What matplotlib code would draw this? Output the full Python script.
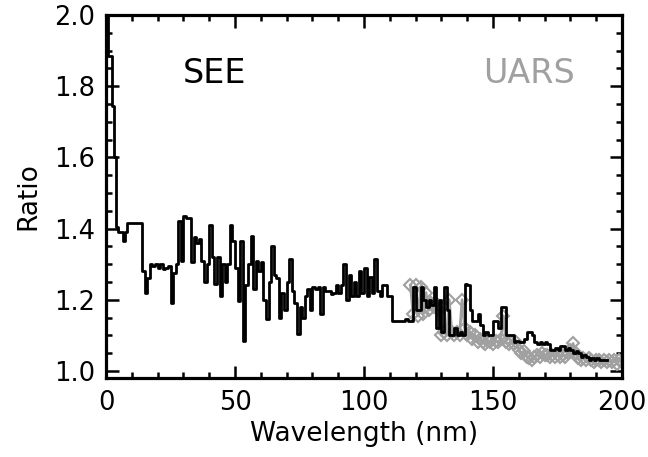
import numpy as np
import matplotlib
matplotlib.use("Agg")
from matplotlib import pyplot as plt
from matplotlib.ticker import MultipleLocator, FormatStrFormatter

# SEE ratio: left bin edges (nm) and values, short-wavelength part has uneven bins
see_wl_short = [0, 0.6, 2.2, 3.1, 3.9, 4.8, 6.7, 7.5, 8.3]
see_ratio_short = [2.05, 1.885, 1.745, 1.60, 1.405, 1.39, 1.365, 1.39, 1.417]

# 1 nm bins from 14 nm to 193 nm
see_wl_long = list(range(14, 194))
see_ratio_long = [
    1.28, 1.22, 1.26, 1.30, 1.295, 1.30, 1.29, 1.30, 1.285, 1.29,      # 14-23
    1.295, 1.19, 1.275, 1.30, 1.42, 1.31, 1.435, 1.43, 1.43, 1.305,    # 24-33
    1.375, 1.36, 1.37, 1.31, 1.25, 1.30, 1.41, 1.32, 1.245, 1.32,      # 34-43
    1.21, 1.30, 1.25, 1.30, 1.41, 1.365, 1.29, 1.195, 1.365, 1.085,    # 44-53
    1.24, 1.30, 1.38, 1.23, 1.31, 1.28, 1.305, 1.20, 1.145, 1.25,      # 54-63
    1.35, 1.27, 1.26, 1.15, 1.22, 1.17, 1.25, 1.315, 1.225, 1.19,      # 64-73
    1.105, 1.18, 1.15, 1.21, 1.23, 1.17, 1.235, 1.23, 1.235, 1.16,     # 74-83
    1.235, 1.225, 1.225, 1.215, 1.22, 1.24, 1.22, 1.24, 1.30, 1.20,    # 84-93
    1.27, 1.21, 1.25, 1.21, 1.28, 1.22, 1.29, 1.21, 1.265, 1.22,       # 94-103
    1.315, 1.225, 1.21, 1.24, 1.24, 1.21, 1.21, 1.14, 1.14, 1.14,      # 104-113
    1.14, 1.14, 1.145, 1.14, 1.14, 1.235, 1.17, 1.17, 1.235, 1.20,     # 114-123
    1.18, 1.20, 1.185, 1.235, 1.12, 1.20, 1.11, 1.235, 1.17, 1.10,     # 124-133
    1.10, 1.12, 1.10, 1.11, 1.10, 1.245, 1.24, 1.17, 1.14, 1.14,       # 134-143
    1.16, 1.13, 1.10, 1.11, 1.10, 1.10, 1.14, 1.14, 1.12, 1.18,        # 144-153
    1.18, 1.10, 1.10, 1.10, 1.08, 1.085, 1.08, 1.08, 1.09, 1.11,       # 154-163
    1.11, 1.10, 1.08, 1.075, 1.08, 1.075, 1.08, 1.075, 1.06, 1.06,     # 164-173
    1.065, 1.06, 1.07, 1.07, 1.06, 1.065, 1.06, 1.05, 1.055, 1.05,     # 174-183
    1.04, 1.045, 1.04, 1.03, 1.035, 1.03, 1.035, 1.03, 1.03, 1.03,     # 184-193
]
see_end = 194

# UARS ratio, 1 nm sampling
uars_wl = list(range(118, 201))
uars_ratio = [
    1.24, 1.16, 1.24, 1.155, 1.235, 1.16, 1.22, 1.17, 1.19, 1.18,      # 118-127
    1.19, 1.17, 1.10, 1.11, 1.10, 1.20, 1.11, 1.10, 1.11, 1.10,        # 128-137
    1.20, 1.12, 1.10, 1.11, 1.09, 1.10, 1.08, 1.09, 1.08, 1.075,       # 138-147
    1.085, 1.08, 1.075, 1.085, 1.08, 1.09, 1.155, 1.08, 1.075, 1.08,   # 148-157
    1.075, 1.08, 1.06, 1.05, 1.055, 1.04, 1.035, 1.03, 1.04, 1.045,    # 158-167
    1.04, 1.05, 1.045, 1.046, 1.04, 1.046, 1.04, 1.045, 1.04, 1.046,   # 168-177
    1.04, 1.05, 1.06, 1.077, 1.05, 1.035, 1.03, 1.035, 1.03, 1.035,    # 178-187
    1.03, 1.025, 1.03, 1.03, 1.025, 1.03, 1.025, 1.03, 1.025, 1.03,    # 188-197
    1.02, 1.03, 1.025,                                                 # 198-200
]

see_wl = see_wl_short + see_wl_long
see_ratio = see_ratio_short + see_ratio_long
edges = see_wl + [see_end]
vals = see_ratio + [see_ratio[-1]]

plt.rcParams["font.family"] = ["DejaVu Sans"]

fig = plt.figure(figsize=(6.48, 4.57), dpi=100)
ax = fig.add_axes([0.1636, 0.1729, 0.7964, 0.7941])

# gray UARS curve with open diamonds, SEE step curve on top
ax.plot(uars_wl, uars_ratio, color="#a0a0a0", lw=2.0, marker="D", ms=6,
        mfc="none", mec="#a0a0a0", mew=1.5, zorder=2)
ax.step(edges, vals, where="post", color="black", lw=2.0, zorder=3)

ax.set_xlim(0, 200)
ax.set_ylim(0.98, 2.0)

ax.xaxis.set_major_locator(MultipleLocator(50))
ax.xaxis.set_minor_locator(MultipleLocator(10))
ax.yaxis.set_major_locator(MultipleLocator(0.2))
ax.yaxis.set_minor_locator(MultipleLocator(0.05))
ax.yaxis.set_major_formatter(FormatStrFormatter("%.1f"))

ax.tick_params(which="both", direction="in", top=True, right=True, width=1.8,
               labelsize=18.5)
ax.tick_params(which="major", length=9)
ax.tick_params(which="minor", length=4.5)
ax.tick_params(axis="x", pad=9)
ax.tick_params(axis="y", pad=8)

for sp in ax.spines.values():
    sp.set_linewidth(2.3)

ax.set_xlabel("Wavelength (nm)", fontsize=19, labelpad=3)
ax.set_ylabel("Ratio", fontsize=19, labelpad=9)

ax.text(42, 1.835, "SEE", fontsize=24, color="black", ha="center", va="center")
ax.text(164, 1.835, "UARS", fontsize=24, color="#a0a0a0", ha="center", va="center")

fig.savefig("out.png", dpi=100)
